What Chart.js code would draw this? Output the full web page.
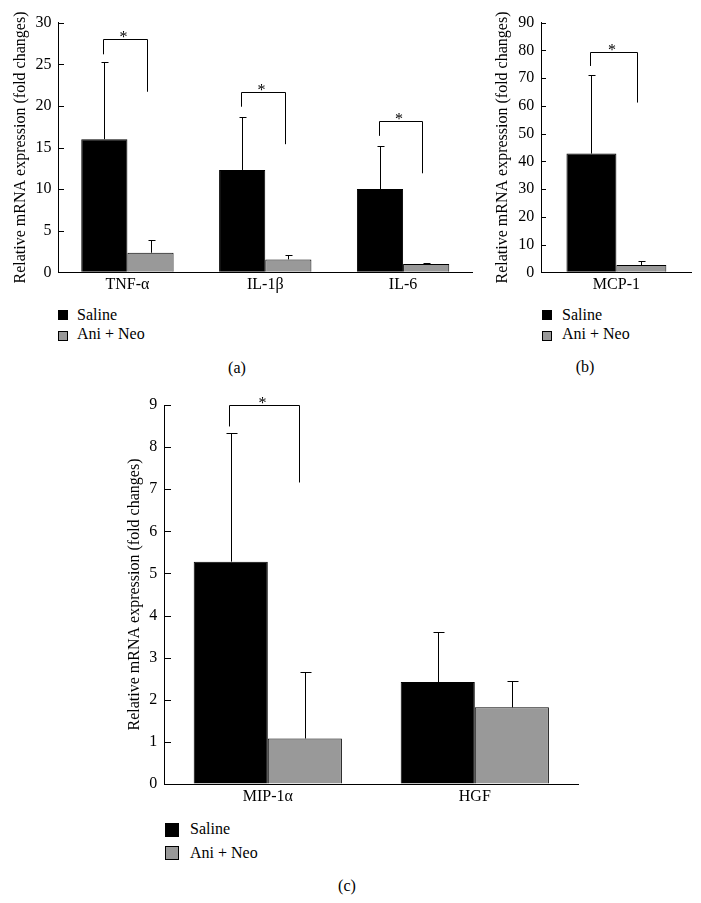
<!DOCTYPE html>
<html>
<head>
<meta charset="utf-8">
<script src="https://cdn.jsdelivr.net/npm/chart.js@4.4.1/dist/chart.umd.min.js"></script>
<style>
  html, body { margin:0; padding:0; background:#fff; }
  body { width:701px; height:903px; position:relative; overflow:hidden; font-family:"Liberation Serif","Times New Roman",serif; color:#000; }
  canvas { position:absolute; }
  .sq { position:absolute; box-sizing:border-box; border:1px solid #000; }
  .tx { position:absolute; font-size:16px; line-height:20px; white-space:nowrap; }
  .pl { position:absolute; font-size:16px; line-height:20px; width:40px; text-align:center; }
</style>
</head>
<body>
<canvas id="ca" width="480" height="300" style="left:0;top:0"></canvas>
<canvas id="cb" width="221" height="300" style="left:480px;top:0"></canvas>
<canvas id="cc" width="490" height="430" style="left:110px;top:380px"></canvas>

<div class="sq" style="left:58px;top:310px;width:10px;height:10px;background:#000"></div>
<div class="tx" style="left:77px;top:305px">Saline</div>
<div class="sq" style="left:58px;top:331px;width:10px;height:10px;background:#999"></div>
<div class="tx" style="left:77px;top:324px">Ani + Neo</div>
<div class="pl" style="left:217px;top:358px">(a)</div>

<div class="sq" style="left:542px;top:310px;width:10px;height:10px;background:#000"></div>
<div class="tx" style="left:562px;top:305px">Saline</div>
<div class="sq" style="left:542px;top:331px;width:10px;height:10px;background:#999"></div>
<div class="tx" style="left:562px;top:324px">Ani + Neo</div>
<div class="pl" style="left:565px;top:357px">(b)</div>

<div class="sq" style="left:165px;top:823px;width:14px;height:14px;background:#000"></div>
<div class="tx" style="left:190px;top:819px">Saline</div>
<div class="sq" style="left:165px;top:846px;width:14px;height:14px;background:#999"></div>
<div class="tx" style="left:190px;top:843px">Ani + Neo</div>
<div class="pl" style="left:327px;top:876px">(c)</div>

<script>
// ---------- data ----------
const seriesNames = ['Saline', 'Ani + Neo'];
const yTitle = 'Relative mRNA expression (fold changes)';

// panel (a)
const catsA = ['TNF-α', 'IL-1β', 'IL-6'];
const salineA = [16.0, 12.3, 10.0];
const salineSdA = [9.3, 6.4, 5.2];
const aniA = [2.35, 1.55, 1.0];
const aniSdA = [1.55, 0.55, 0.15];
const bracketTopA = [28.0, 21.7, 18.2];
const bracketLeftA = [26.2, 19.9, 16.4];
const bracketRightA = [21.7, 15.4, 11.9];
const yTicksA = [0, 5, 10, 15, 20, 25, 30];

// panel (b)
const catsB = ['MCP-1'];
const salineB = [42.8];
const salineSdB = [28.2];
const aniB = [2.6];
const aniSdB = [1.6];
const bracketTopB = [79.6];
const bracketLeftB = [74.4];
const bracketRightB = [61.2];
const yTicksB = [0, 10, 20, 30, 40, 50, 60, 70, 80, 90];

// panel (c)
const catsC = ['MIP-1α', 'HGF'];
const salineC = [5.28, 2.42];
const salineSdC = [3.06, 1.18];
const aniC = [1.08, 1.82];
const aniSdC = [1.59, 0.63];
const bracketTopC = [9.0, null];
const bracketLeftC = [8.49, null];
const bracketRightC = [7.16, null];
const yTicksC = [0, 1, 2, 3, 4, 5, 6, 7, 8, 9];

// ---------- drawing ----------
const FONT = '"Liberation Serif", "Times New Roman", serif';

const overlay = {
  id: 'overlay',
  afterDatasetsDraw(chart, args, o) {
    const ctx = chart.ctx;
    const ys = chart.scales.y;
    const ca = chart.chartArea;
    ctx.save();
    ctx.strokeStyle = '#000';
    ctx.lineWidth = 1;
    // inward tick marks
    ys.ticks.forEach(t => {
      const py = Math.round(ys.getPixelForValue(t.value)) + 0.5;
      const px = Math.round(ca.left);
      ctx.beginPath();
      ctx.moveTo(px, py);
      ctx.lineTo(px + o.tickLen, py);
      ctx.stroke();
    });
    // error bars
    o.sds.forEach((sd, di) => {
      const meta = chart.getDatasetMeta(di);
      const vals = chart.data.datasets[di].data;
      meta.data.forEach((bar, i) => {
        const x = Math.round(bar.x) + 0.5;
        const y0 = ys.getPixelForValue(vals[i]);
        const y1 = Math.round(ys.getPixelForValue(vals[i] + sd[i])) + 0.5;
        ctx.beginPath();
        ctx.moveTo(x, y0);
        ctx.lineTo(x, y1);
        ctx.moveTo(x - o.cap, y1);
        ctx.lineTo(x + o.cap + 1, y1);
        ctx.stroke();
      });
    });
    // significance brackets
    const m0 = chart.getDatasetMeta(0), m1 = chart.getDatasetMeta(1);
    o.top.forEach((tv, i) => {
      if (tv == null) return;
      const b0 = m0.data[i], b1 = m1.data[i];
      const xl = Math.round(b0.x - 0.02 * b0.width) + 0.5;
      const xr = Math.round(b1.x - 0.08 * b1.width) + 0.5;
      const yt = Math.round(ys.getPixelForValue(tv)) + 0.5;
      const yl = ys.getPixelForValue(o.left[i]);
      const yr = ys.getPixelForValue(o.right[i]);
      ctx.beginPath();
      ctx.moveTo(xl, yl);
      ctx.lineTo(xl, yt);
      ctx.lineTo(xr, yt);
      ctx.lineTo(xr, yr);
      ctx.stroke();
      ctx.fillStyle = '#000';
      ctx.font = '16px ' + FONT;
      ctx.textAlign = 'center';
      ctx.textBaseline = 'alphabetic';
      ctx.fillText('*', (xl + xr) / 2 - 2, yt + 2);
    });
    ctx.restore();
  }
};

function makeChart(id, cats, sal, salSd, ani, aniSd, bTop, bLeft, bRight, yTicks, cfg) {
  new Chart(document.getElementById(id), {
    type: 'bar',
    data: {
      labels: cats,
      datasets: [
        { label: seriesNames[0], data: sal, backgroundColor: '#000', borderColor: '#000', borderWidth: 1 },
        { label: seriesNames[1], data: ani, backgroundColor: '#999', borderColor: '#000', borderWidth: 1 }
      ]
    },
    options: {
      responsive: false,
      animation: false,
      devicePixelRatio: 1,
      layout: { padding: cfg.pad },
      datasets: { bar: { barPercentage: 1.0, categoryPercentage: cfg.catPct } },
      plugins: {
        legend: { display: false },
        tooltip: { enabled: false },
        overlay: { sds: [salSd, aniSd], top: bTop, left: bLeft, right: bRight, cap: cfg.cap, tickLen: cfg.tickLen }
      },
      scales: {
        x: {
          grid: { display: true, drawOnChartArea: false, drawTicks: false },
          border: { display: true, color: '#000', width: 1 },
          ticks: { color: '#000', font: { family: FONT, size: 16 }, padding: cfg.xPad, maxRotation: 0 },
          afterFit: s => { s.height = cfg.xH; }
        },
        y: {
          min: yTicks[0],
          max: yTicks[yTicks.length - 1],
          afterBuildTicks: s => { s.ticks = yTicks.map(v => ({ value: v })); },
          grid: { display: true, drawOnChartArea: false, drawTicks: false },
          border: { display: true, color: '#000', width: 1 },
          ticks: { color: '#000', font: { family: FONT, size: 16 }, padding: 7 },
          title: { display: true, text: yTitle, color: '#000', font: { family: FONT, size: 16 }, padding: { top: cfg.titlePad, bottom: 0 } },
          afterFit: s => { s.width = cfg.yW; }
        }
      }
    },
    plugins: [overlay]
  });
}

makeChart('ca', catsA, salineA, salineSdA, aniA, aniSdA, bracketTopA, bracketLeftA, bracketRightA, yTicksA,
  { pad: { top: 22.7, right: 8, bottom: 0, left: 0 }, catPct: 0.67, cap: 3, tickLen: 5, xPad: 2.5, xH: 27.7, yW: 58.5, titlePad: 11.4 });
makeChart('cb', catsB, salineB, salineSdB, aniB, aniSdB, bracketTopB, bracketLeftB, bracketRightB, yTicksB,
  { pad: { top: 22.7, right: 9.5, bottom: 0, left: 0 }, catPct: 0.665, cap: 3, tickLen: 5, xPad: 2.5, xH: 27.7, yW: 61.3, titlePad: 13.4 });
makeChart('cc', catsC, salineC, salineSdC, aniC, aniSdC, bracketTopC, bracketLeftC, bracketRightC, yTicksC,
  { pad: { top: 25, right: 21.7, bottom: 0, left: 0 }, catPct: 0.716, cap: 5, tickLen: 7, xPad: 3, xH: 26, yW: 54.3, titlePad: 15.4 });
</script>
</body>
</html>
